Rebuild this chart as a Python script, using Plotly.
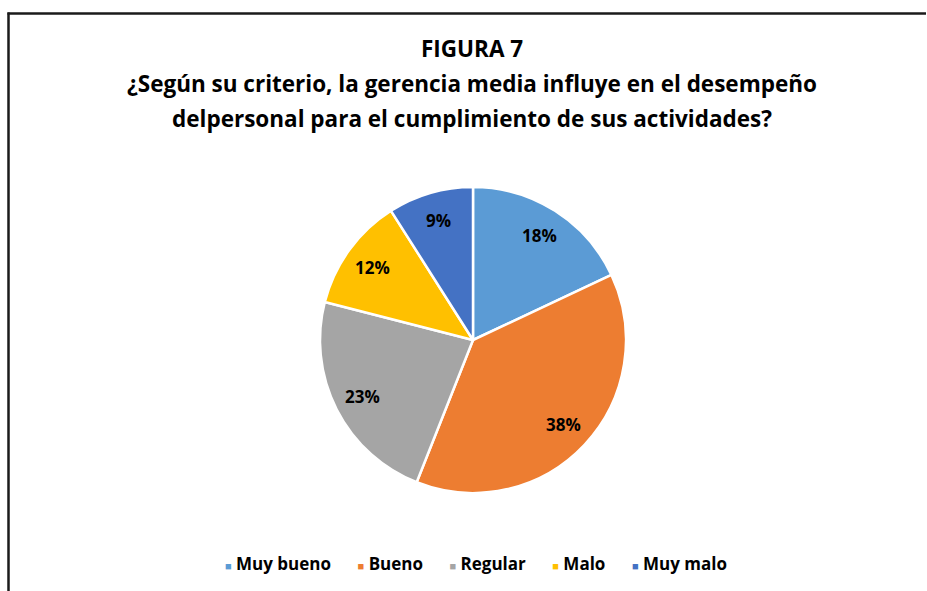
import math
import plotly.graph_objects as go

categories = ["Muy bueno", "Bueno", "Regular", "Malo", "Muy malo"]
values = [18, 38, 23, 12, 9]
colors = ["#5B9BD5", "#ED7D31", "#A5A5A5", "#FFC000", "#4472C4"]
title_lines = [
    "FIGURA 7",
    "¿Según su criterio, la gerencia media influye en el desempeño",
    "delpersonal para el cumplimiento de sus actividades?",
]

FW, FH = 927, 591
FONT = "'Open Sans', Lato, sans-serif"


def px(x):
    return x / FW


def py(y):
    return 1 - y / FH


cx, cy, r = 473, 340, 153

fig = go.Figure(go.Pie(
    labels=categories,
    values=values,
    sort=False,
    direction="clockwise",
    rotation=0,
    marker=dict(colors=colors, line=dict(color="white", width=2.5)),
    textinfo="none",
    hoverinfo="skip",
    domain=dict(x=[px(cx - r), px(cx + r)], y=[py(cy + r), py(cy - r)]),
    automargin=False,
    showlegend=False,
))

annotations = []
# title
for t, yy in zip(title_lines, [48, 84, 118]):
    annotations.append(dict(
        text=f"<b>{t}</b>", x=px(472), y=py(yy), xref="paper", yref="paper",
        xanchor="center", yanchor="middle", showarrow=False,
        font=dict(family=FONT, size=22.5, color="#000000"),
    ))

# percentage labels placed along the slice mid-angles
total = sum(values)
cum = 0
for v in values:
    mid = (cum + v / 2) / total * 2 * math.pi
    cum += v
    lx = cx + 0.81 * r * math.sin(mid)
    ly = cy - 0.81 * r * math.cos(mid)
    annotations.append(dict(
        text=f"<b>{round(100 * v / total)}%</b>", x=px(lx), y=py(ly),
        xref="paper", yref="paper", xanchor="center", yanchor="middle",
        showarrow=False, font=dict(family=FONT, size=17, color="#000000"),
    ))

# legend
sp = "&nbsp;" * 6
parts = [f"<span style='color:{c};font-size:11px'>■</span>&nbsp;<b>{n}</b>" for n, c in zip(categories, colors)]
annotations.append(dict(
    text=sp.join(parts), x=px(476), y=py(563), xref="paper", yref="paper",
    xanchor="center", yanchor="middle", showarrow=False,
    font=dict(family=FONT, size=17, color="#000000"),
))

fig.update_layout(
    width=FW, height=FH,
    margin=dict(l=0, r=0, t=0, b=0),
    paper_bgcolor="white",
    plot_bgcolor="white",
    annotations=annotations,
    showlegend=False,
    shapes=[
        dict(type="line", xref="paper", yref="paper", x0=px(7.5), x1=px(926), y0=py(13.5), y1=py(13.5),
             line=dict(color="#1a1a1a", width=2.5), layer="above"),
        dict(type="line", xref="paper", yref="paper", x0=px(8.5), x1=px(8.5), y0=0.0, y1=py(12.5),
             line=dict(color="#1a1a1a", width=2.5), layer="above"),
    ],
)

fig.write_html(
    "out.html",
    config={"displayModeBar": False},
    post_script="document.body.style.margin='0';document.body.style.overflow='hidden';",
)
